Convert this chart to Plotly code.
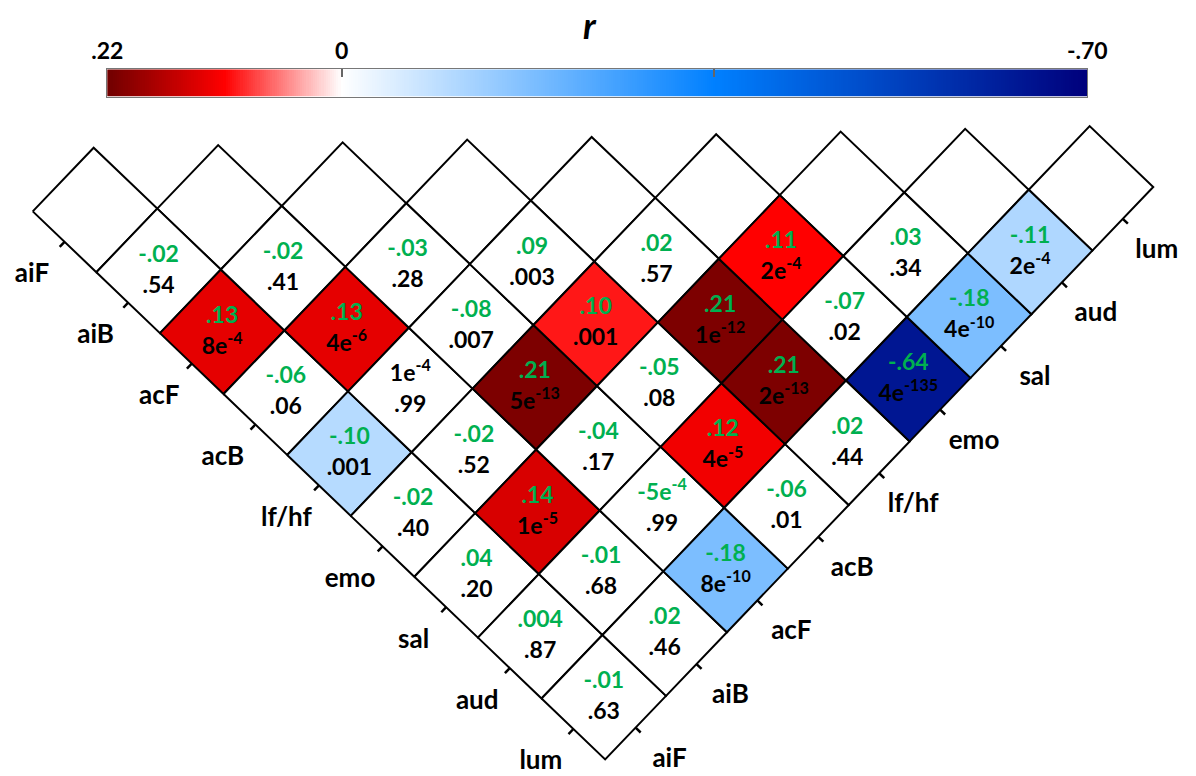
import re
import numpy as np
import plotly.graph_objects as go
from plotly.colors import sample_colorscale

# ---------------------------------------------------------------- data
variables = ["aiF", "aiB", "acF", "acB", "lf/hf", "emo", "sal", "aud", "lum"]

# Lower triangle: r_rows[a][b] / p_rows[a][b] pair variables[a] with variables[b] (b < a)
r_rows = [
    [],
    ["-.02"],
    [".13", "-.02"],
    ["-.06", ".13", "-.03"],
    ["-.10", "1e-4", "-.08", ".09"],
    ["-.02", "-.02", ".21", ".10", ".02"],
    [".04", ".14", "-.04", "-.05", ".21", ".11"],
    [".004", "-.01", "-5e-4", ".12", ".21", "-.07", ".03"],
    ["-.01", ".02", "-.18", "-.06", ".02", "-.64", "-.18", "-.11"],
]
p_rows = [
    [],
    [".54"],
    ["8e-4", ".41"],
    [".06", "4e-6", ".28"],
    [".001", ".99", ".007", ".003"],
    [".40", ".52", "5e-13", ".001", ".57"],
    [".20", "1e-5", ".17", ".08", "1e-12", "2e-4"],
    [".87", ".68", ".99", "4e-5", "2e-13", ".02", ".34"],
    [".63", ".46", "8e-10", ".01", ".44", "4e-135", "4e-10", "2e-4"],
]
# coefficient labels printed in black instead of green
r_label_black = {(4, 1)}

# colour scale for r
scale_vals = [-0.70, -0.35, 0.0, 0.11, 0.22]
scale_cols = ["#00007c", "#0080ff", "#ffffff", "#ff0000", "#700000"]
bar_ticks = [0.22, 0.0, -0.35, -0.70]
bar_ticktext = [".22", "0", "", "-.70"]

n_tests = len(variables) * (len(variables) - 1) // 2
alpha = 0.05 / n_tests

# ---------------------------------------------------------------- styling / geometry
W, H = 1196, 776
FONT = "Lato"
GREEN = "#00b050"
origin = np.array([95.0, 210.0])      # centre of the first diagonal cell (px)
step_a = np.array([63.6, 60.9])       # one step along the left-hand variable axis
step_b = np.array([60.9, -63.6])      # one step along the right-hand variable axis
unit_a = step_a / np.linalg.norm(step_a)
unit_b = step_b / np.linalg.norm(step_b)
label_gap = 47

vmin, vmax = scale_vals[0], scale_vals[-1]
colorscale = [[(v - vmin) / (vmax - vmin), c] for v, c in zip(scale_vals, scale_cols)]


def centre(a, b):
    return origin + a * step_a + b * step_b


def corners(a, b):
    c = centre(a, b)
    ha, hb = step_a / 2, step_b / 2
    pts = [c - ha - hb, c - ha + hb, c + ha + hb, c + ha - hb, c - ha - hb]
    return [p[0] for p in pts], [p[1] for p in pts]


def sup(s):
    return re.sub(r"e(-?\d+)$", r"e<sup>\1</sup>", s)


def fill_for(r, p):
    if p >= alpha:
        return "white"
    t = (r - vmin) / (vmax - vmin)
    return sample_colorscale(colorscale, [t])[0]


fig = go.Figure()

# diagonal cells (empty)
for k in range(len(variables)):
    xs, ys = corners(k, k)
    fig.add_trace(go.Scatter(x=xs, y=ys, mode="lines", fill="toself", fillcolor="white",
                             line=dict(color="black", width=2), hoverinfo="skip"))

# off-diagonal cells
rx, ry, rt, rc = [], [], [], []
px_, py_, pt = [], [], []
for a in range(1, len(variables)):
    for b in range(a):
        r_txt, p_txt = r_rows[a][b], p_rows[a][b]
        r_val, p_val = float(r_txt), float(p_txt)
        xs, ys = corners(a, b)
        fig.add_trace(go.Scatter(x=xs, y=ys, mode="lines", fill="toself",
                                 fillcolor=fill_for(r_val, p_val),
                                 line=dict(color="black", width=2), hoverinfo="skip"))
        c = centre(a, b)
        rx.append(c[0]); ry.append(c[1] - 15); rt.append(sup(r_txt))
        rc.append("black" if (a, b) in r_label_black else GREEN)
        px_.append(c[0]); py_.append(c[1] + 16); pt.append(sup(p_txt))

fig.add_trace(go.Scatter(x=rx, y=ry, text=rt, mode="text", textposition="middle center",
                         textfont=dict(family=FONT, size=23, color=rc, weight="bold"),
                         hoverinfo="skip"))
fig.add_trace(go.Scatter(x=px_, y=py_, text=pt, mode="text", textposition="middle center",
                         textfont=dict(family=FONT, size=23, color="black", weight="bold"),
                         hoverinfo="skip"))

# axis ticks and variable names along both outer edges
tx, ty, lx, ly, lt = [], [], [], [], []
n = len(variables)
for k in range(n):
    m = centre(k, 0) - step_b / 2
    e = m - unit_b * 7
    tx += [m[0], e[0], None]; ty += [m[1], e[1], None]
    lab = m - unit_b * label_gap
    lx.append(lab[0]); ly.append(lab[1]); lt.append(variables[k])

    m = centre(n - 1, k) + step_a / 2
    e = m + unit_a * 7
    tx += [m[0], e[0], None]; ty += [m[1], e[1], None]
    lab = m + unit_a * label_gap
    lx.append(lab[0]); ly.append(lab[1]); lt.append(variables[k])

fig.add_trace(go.Scatter(x=tx, y=ty, mode="lines", line=dict(color="black", width=2.5),
                         hoverinfo="skip"))
fig.add_trace(go.Scatter(x=lx, y=ly, text=lt, mode="text", textposition="middle center",
                         textfont=dict(family=FONT, size=26, color="black", weight="bold"),
                         hoverinfo="skip"))

# colour bar
bar_vals = np.linspace(vmax, vmin, 461)
fig.add_trace(go.Heatmap(x=bar_vals, y=[0], z=[bar_vals], colorscale=colorscale,
                         zmin=vmin, zmax=vmax, showscale=False, xaxis="x2", yaxis="y2",
                         hoverinfo="skip"))

fig.update_layout(
    width=W, height=H, autosize=False,
    margin=dict(l=0, r=0, t=0, b=0, pad=0, autoexpand=False),
    paper_bgcolor="white", plot_bgcolor="white",
    showlegend=False, hovermode=False,
    xaxis=dict(domain=[0, 1], range=[0, W], visible=False, fixedrange=True),
    yaxis=dict(domain=[0, 1], range=[H, 0], visible=False, fixedrange=True),
    xaxis2=dict(domain=[107.3 / W, 1087.3 / W], range=[vmax, vmin], anchor="y2", side="top",
                tickvals=bar_ticks, ticktext=bar_ticktext, ticks="inside", ticklen=8,
                tickcolor="#666666", tickwidth=1.5, showgrid=False, zeroline=False,
                showline=True, mirror=True, linecolor="#777777", linewidth=1.2,
                automargin=False,
                tickfont=dict(family=FONT, size=23, color="black", weight="bold")),
    yaxis2=dict(domain=[1 - 96.7 / H, 1 - 69.3 / H], range=[-0.5, 0.5], anchor="x2",
                showticklabels=False, ticks="", showgrid=False, zeroline=False,
                showline=True, mirror=True, linecolor="#777777", linewidth=1.2,
                automargin=False),
    annotations=[dict(text="<b><i>r</i></b>", x=590 / W, y=1 - 25 / H, xref="paper",
                      yref="paper", showarrow=False, xanchor="center", yanchor="middle",
                      font=dict(family=FONT, size=36, color="black"))],
)

fig.write_html(
    "out.html",
    config={"responsive": False, "displayModeBar": False},
    post_script="document.body.style.margin='0';document.body.style.overflow='hidden';",
)
